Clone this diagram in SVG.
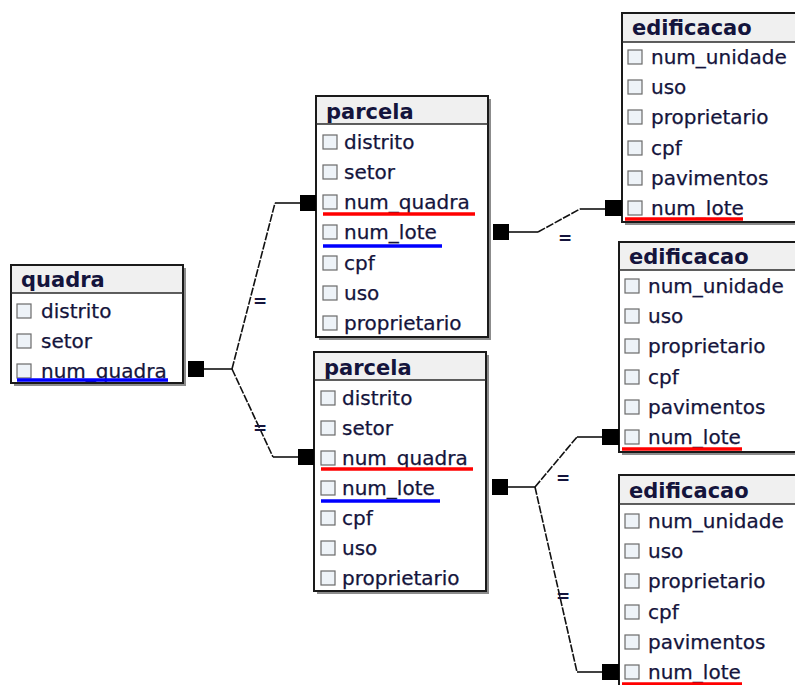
<svg xmlns="http://www.w3.org/2000/svg" width="795" height="685" viewBox="0 0 795 685">
<style>
.bg{fill:#fff}
.shadow{fill:#8c8c8c}
.box{fill:#fff;stroke:#1a1a1a;stroke-width:2}
.hdr{fill:#f0f0f0}
.sep{stroke:#2a2a2a;stroke-width:1.5}
.title{font-family:"DejaVu Sans",sans-serif;font-weight:bold;font-size:21px;fill:#14143c}
.fld{font-family:"DejaVu Sans",sans-serif;font-size:20px;fill:#14143c;stroke:#14143c;stroke-width:0.25}
.cb{fill:#eef3f8;stroke:#6a6a6a;stroke-width:1.2}
.red{stroke:#ff0000;stroke-width:3.5}
.blue{stroke:#0000ff;stroke-width:3.5}
.ln{fill:none;stroke:#111;stroke-width:1.6}
.dl{fill:none;stroke:#111;stroke-width:1.6;stroke-dasharray:8 1.5}
.sq{fill:#000}
.eq{font-family:"DejaVu Sans",sans-serif;font-size:17px;font-weight:bold;fill:#14143c}
</style>
<rect class="bg" x="0" y="0" width="795" height="685"/>

<g id="quadra" transform="translate(11,265)">
  <rect class="shadow" x="3" y="3" width="172" height="118"/>
  <rect class="box" x="0" y="0" width="172" height="118"/>
  <rect class="hdr" x="1" y="1" width="170" height="27"/>
  <line class="sep" x1="0" y1="28" x2="172" y2="28"/>
  <text class="title" x="10" y="22">quadra</text>
  <rect class="cb" x="6" y="39" width="14" height="14"/><text class="fld" x="30" y="53">distrito</text>
  <rect class="cb" x="6" y="69" width="14" height="14"/><text class="fld" x="30" y="83">setor</text>
  <rect class="cb" x="6" y="99" width="14" height="14"/><text class="fld" x="30" y="113">num_quadra</text>
  <line class="blue" x1="6" y1="115" x2="157" y2="115"/>
</g>

<g id="parcela1" transform="translate(316,96)">
  <rect class="shadow" x="3" y="3" width="172" height="241"/>
  <rect class="box" x="0" y="0" width="172" height="241"/>
  <rect class="hdr" x="1" y="1" width="170" height="27"/>
  <line class="sep" x1="0" y1="28" x2="172" y2="28"/>
  <text class="title" x="10" y="23">parcela</text>
  <rect class="cb" x="7" y="39" width="14" height="14"/><text class="fld" x="28" y="53">distrito</text>
  <rect class="cb" x="7" y="69" width="14" height="14"/><text class="fld" x="28" y="83">setor</text>
  <rect class="cb" x="7" y="99" width="14" height="14"/><text class="fld" x="28" y="113">num_quadra</text>
  <rect class="cb" x="7" y="129" width="14" height="14"/><text class="fld" x="28" y="143">num_lote</text>
  <rect class="cb" x="7" y="160" width="14" height="14"/><text class="fld" x="28" y="174">cpf</text>
  <rect class="cb" x="7" y="190" width="14" height="14"/><text class="fld" x="28" y="204">uso</text>
  <rect class="cb" x="7" y="220" width="14" height="14"/><text class="fld" x="28" y="234">proprietario</text>
  <line class="red" x1="7" y1="118" x2="159" y2="118"/>
  <line class="blue" x1="7" y1="150" x2="126" y2="150"/>
</g>

<g id="parcela2" transform="translate(314,352)">
  <rect class="shadow" x="3" y="3" width="172" height="239"/>
  <rect class="box" x="0" y="0" width="172" height="239"/>
  <rect class="hdr" x="1" y="1" width="170" height="27"/>
  <line class="sep" x1="0" y1="28" x2="172" y2="28"/>
  <text class="title" x="10" y="23">parcela</text>
  <rect class="cb" x="7" y="39" width="14" height="14"/><text class="fld" x="28" y="53">distrito</text>
  <rect class="cb" x="7" y="69" width="14" height="14"/><text class="fld" x="28" y="83">setor</text>
  <rect class="cb" x="7" y="99" width="14" height="14"/><text class="fld" x="28" y="113">num_quadra</text>
  <rect class="cb" x="7" y="129" width="14" height="14"/><text class="fld" x="28" y="143">num_lote</text>
  <rect class="cb" x="7" y="159" width="14" height="14"/><text class="fld" x="28" y="173">cpf</text>
  <rect class="cb" x="7" y="189" width="14" height="14"/><text class="fld" x="28" y="203">uso</text>
  <rect class="cb" x="7" y="219" width="14" height="14"/><text class="fld" x="28" y="233">proprietario</text>
  <line class="red" x1="7" y1="117" x2="159" y2="117"/>
  <line class="blue" x1="7" y1="149" x2="126" y2="149"/>
</g>

<g id="edificacao1" transform="translate(622,13)">
  <rect class="shadow" x="3" y="3" width="200" height="209"/>
  <rect class="box" x="0" y="0" width="200" height="209"/>
  <rect class="hdr" x="1" y="1" width="198" height="28"/>
  <line class="sep" x1="0" y1="29" x2="200" y2="29"/>
  <text class="title" x="10" y="22">edificacao</text>
  <rect class="cb" x="6" y="37" width="14" height="14"/><text class="fld" x="29" y="51">num_unidade</text>
  <rect class="cb" x="6" y="67" width="14" height="14"/><text class="fld" x="29" y="81">uso</text>
  <rect class="cb" x="6" y="97" width="14" height="14"/><text class="fld" x="29" y="111">proprietario</text>
  <rect class="cb" x="6" y="128" width="14" height="14"/><text class="fld" x="29" y="142">cpf</text>
  <rect class="cb" x="6" y="158" width="14" height="14"/><text class="fld" x="29" y="172">pavimentos</text>
  <rect class="cb" x="6" y="188" width="14" height="14"/><text class="fld" x="29" y="202">num_lote</text>
  <line class="red" x1="3" y1="206" x2="121" y2="206"/>
</g>

<g id="edificacao2" transform="translate(619,242)">
  <rect class="shadow" x="3" y="3" width="200" height="210"/>
  <rect class="box" x="0" y="0" width="200" height="210"/>
  <rect class="hdr" x="1" y="1" width="198" height="27"/>
  <line class="sep" x1="0" y1="28" x2="200" y2="28"/>
  <text class="title" x="10" y="22">edificacao</text>
  <rect class="cb" x="6" y="37" width="14" height="14"/><text class="fld" x="29" y="51">num_unidade</text>
  <rect class="cb" x="6" y="67" width="14" height="14"/><text class="fld" x="29" y="81">uso</text>
  <rect class="cb" x="6" y="97" width="14" height="14"/><text class="fld" x="29" y="111">proprietario</text>
  <rect class="cb" x="6" y="128" width="14" height="14"/><text class="fld" x="29" y="142">cpf</text>
  <rect class="cb" x="6" y="158" width="14" height="14"/><text class="fld" x="29" y="172">pavimentos</text>
  <rect class="cb" x="6" y="188" width="14" height="14"/><text class="fld" x="29" y="202">num_lote</text>
  <line class="red" x1="3" y1="207" x2="123" y2="207"/>
</g>

<g id="edificacao3" transform="translate(619,475)">
  <rect class="shadow" x="3" y="3" width="200" height="220"/>
  <rect class="box" x="0" y="0" width="200" height="220"/>
  <rect class="hdr" x="1" y="1" width="198" height="28"/>
  <line class="sep" x1="0" y1="29" x2="200" y2="29"/>
  <text class="title" x="10" y="23">edificacao</text>
  <rect class="cb" x="6" y="39" width="14" height="14"/><text class="fld" x="29" y="53">num_unidade</text>
  <rect class="cb" x="6" y="69" width="14" height="14"/><text class="fld" x="29" y="83">uso</text>
  <rect class="cb" x="6" y="99" width="14" height="14"/><text class="fld" x="29" y="113">proprietario</text>
  <rect class="cb" x="6" y="130" width="14" height="14"/><text class="fld" x="29" y="144">cpf</text>
  <rect class="cb" x="6" y="160" width="14" height="14"/><text class="fld" x="29" y="174">pavimentos</text>
  <rect class="cb" x="6" y="190" width="14" height="14"/><text class="fld" x="29" y="204">num_lote</text>
  <line class="red" x1="3" y1="209" x2="123" y2="209"/>
</g>

<g id="connectors">
  <rect class="sq" x="188" y="361" width="16" height="16"/>
  <path class="ln" d="M204,369 H232"/>
  <path class="dl" d="M232,369 L275,203"/>
  <path class="ln" d="M275,203 H300"/>
  <rect class="sq" x="300" y="195" width="16" height="16"/>
  <path class="dl" d="M232,369 L273,457"/>
  <path class="ln" d="M273,457 H298"/>
  <rect class="sq" x="298" y="449" width="16" height="16"/>
  <text class="eq" x="253" y="307">=</text>
  <text class="eq" x="253" y="434">=</text>

  <rect class="sq" x="493" y="224" width="16" height="16"/>
  <path class="ln" d="M509,232 H538"/>
  <path class="dl" d="M538,232 L580,209"/>
  <path class="ln" d="M580,209 H605"/>
  <rect class="sq" x="605" y="200" width="17" height="16"/>
  <text class="eq" x="558" y="244">=</text>

  <rect class="sq" x="492" y="479" width="16" height="16"/>
  <path class="ln" d="M508,487 H535"/>
  <path class="dl" d="M535,487 L577,437"/>
  <path class="ln" d="M577,437 H602"/>
  <rect class="sq" x="602" y="429" width="17" height="16"/>
  <path class="dl" d="M535,487 L577,672"/>
  <path class="ln" d="M577,672 H602"/>
  <rect class="sq" x="602" y="664" width="17" height="16"/>
  <text class="eq" x="556" y="484">=</text>
  <text class="eq" x="556" y="602">=</text>
</g>
</svg>
